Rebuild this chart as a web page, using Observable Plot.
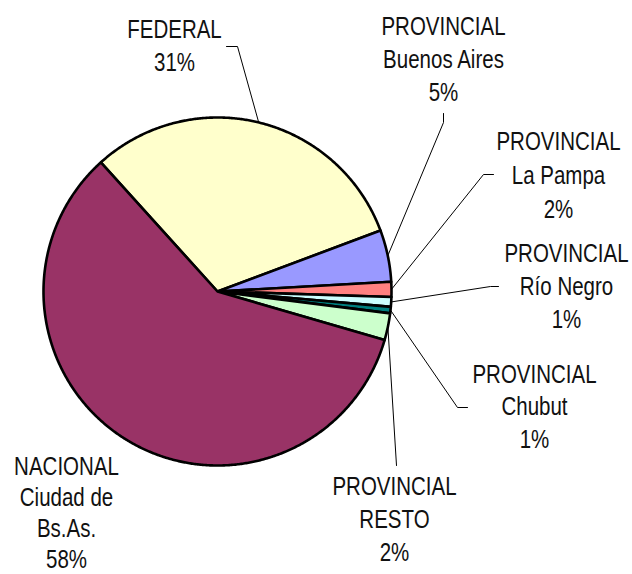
<!DOCTYPE html>
<html>
<head>
<meta charset="utf-8">
<script src="https://cdn.jsdelivr.net/npm/d3@7"></script>
<script src="https://cdn.jsdelivr.net/npm/@observablehq/plot@0.6"></script>
<style>
  html, body { margin: 0; padding: 0; background: #fff; }
  #chart { width: 632px; height: 574px; }
</style>
</head>
<body>
<div id="chart"></div>
<script>
// ---- data ----
const categories = ["FEDERAL", "PROVINCIAL Buenos Aires", "PROVINCIAL La Pampa", "PROVINCIAL Río Negro", "PROVINCIAL Chubut", "PROVINCIAL RESTO", "NACIONAL Ciudad de Bs.As."];
const shares = [31.0, 4.8, 1.4, 0.9, 0.6, 2.5, 58.8];
const labelTexts = ["FEDERAL\n31%", "PROVINCIAL\nBuenos Aires\n5%", "PROVINCIAL\nLa Pampa\n2%", "PROVINCIAL\nRío Negro\n1%", "PROVINCIAL\nChubut\n1%", "PROVINCIAL\nRESTO\n2%", "NACIONAL\nCiudad de\nBs.As.\n58%"];
const sliceColors = ["#FFFFCC", "#9999FF", "#FF8080", "#CCFFFF", "#008080", "#CCFFCC", "#993366"];

// ---- layout ----
const W = 632, H = 574;
const cx = 217, cy = 291, R = 174;
const startDeg = 317.9;
const narrow = 0.82; // horizontal condensing to mimic a narrow sans face
// label block anchor (center x, first-line middle y) and leader path (elbow, end) per category
const labelLayout = [
  {x: 174, y: 29, lineH: 33, leader: [[237, 46], [226, 46]]},
  {x: 443, y: 26, lineH: 33, leader: [[443, 122], [443, 113]]},
  {x: 558, y: 141, lineH: 34, leader: [[483, 174], [493, 174]]},
  {x: 566, y: 253, lineH: 33, leader: [[490, 286], [498, 286]]},
  {x: 534, y: 374, lineH: 32.5, leader: [[457, 407], [467, 407]]},
  {x: 394, y: 486, lineH: 33, leader: [[396, 465]]},
  {x: 66, y: 466, lineH: 31, leader: null}
];

const pie = d3.pie().sort(null).value(d => d)
  .startAngle(startDeg * Math.PI / 180)
  .endAngle(startDeg * Math.PI / 180 + 2 * Math.PI);
const arcs = pie(shares);

const pt = (a, r) => [cx + r * Math.sin(a), cy - r * Math.cos(a)];

// slice polygons
const slicePts = [];
arcs.forEach((a, i) => {
  const name = categories[i];
  slicePts.push({name, x: cx, y: cy});
  const n = Math.max(2, Math.ceil((a.endAngle - a.startAngle) / (0.4 * Math.PI / 180)));
  for (let k = 0; k <= n; k++) {
    const ang = a.startAngle + (a.endAngle - a.startAngle) * k / n;
    const [x, y] = pt(ang, R);
    slicePts.push({name, x, y});
  }
});

// leader lines
const leaderPts = [];
arcs.forEach((a, i) => {
  const L = labelLayout[i];
  if (!L.leader) return;
  const mid = (a.startAngle + a.endAngle) / 2;
  const [x0, y0] = pt(mid, R);
  leaderPts.push({name: categories[i], x: x0, y: y0});
  L.leader.forEach(([x, y]) => leaderPts.push({name: categories[i], x, y}));
});

// labels: one text per line so line spacing matches
const labelRows = [];
labelTexts.forEach((t, i) => {
  const L = labelLayout[i];
  t.split("\n").forEach((line, j) => labelRows.push({text: line, x: L.x, y: L.y + j * L.lineH}));
});

const font = "'Liberation Sans Narrow', 'Arial Narrow', 'Liberation Sans', Arial, sans-serif";

const chart = Plot.plot({
  width: W,
  height: H,
  margin: 0,
  style: {background: "#fff", fontFamily: font},
  x: {domain: [0, W], range: [0, W], axis: null},
  y: {domain: [0, H], range: [0, H], axis: null},
  color: {domain: categories, range: sliceColors},
  marks: [
    Plot.line(leaderPts, {x: "x", y: "y", z: "name", stroke: "#000", strokeWidth: 1, curve: "linear"}),
    Plot.line(slicePts, {x: "x", y: "y", z: "name", fill: "name", stroke: "#000", strokeWidth: 2.6, strokeLinejoin: "round", curve: "linear-closed"}),
    Plot.text(labelRows, {x: "x", y: "y", text: "text", fontSize: 25, fill: "#111", textAnchor: "middle", lineAnchor: "middle", fontFamily: font})
  ]
});
document.getElementById("chart").appendChild(chart);

// condense label glyphs horizontally around each label's own anchor
chart.querySelectorAll("g[aria-label='text'] text").forEach(t => {
  const tr = t.getAttribute("transform");
  if (tr && /translate/.test(tr)) {
    t.setAttribute("transform", tr + ` scale(${narrow},1)`);
  } else {
    const x = +t.getAttribute("x") || 0;
    const y = +t.getAttribute("y") || 0;
    t.setAttribute("transform", `translate(${x},${y}) scale(${narrow},1) translate(${-x},${-y})`);
  }
});
</script>
</body>
</html>
